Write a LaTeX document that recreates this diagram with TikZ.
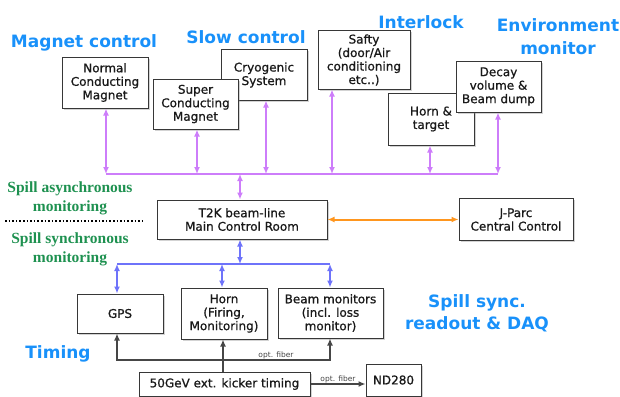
\documentclass[tikz,border=0pt]{standalone}
\usepackage{fontspec}
\setmainfont{DejaVu Sans}
\newfontfamily\boxfont{DejaVu Sans}[FakeBold=0.8]
\newfontfamily\greenfont{Liberation Serif}
\usetikzlibrary{arrows.meta,shadows}
\definecolor{headblue}{RGB}{25,145,250}
\definecolor{lblgreen}{RGB}{30,145,80}
\definecolor{purpc}{RGB}{205,125,250}
\definecolor{bluec}{RGB}{110,115,250}
\definecolor{orangec}{RGB}{255,150,30}
\definecolor{grayc}{RGB}{70,70,70}
\definecolor{boxgray}{RGB}{55,55,55}
\tikzset{
  box/.style={draw=boxgray, line width=1pt, fill=white, align=center, inner sep=0pt,
    font=\boxfont\fontsize{12}{13.5}\selectfont, text=black!90,
    drop shadow={shadow xshift=1.5pt, shadow yshift=-1.5pt, opacity=0.35, fill=gray}},
  heading/.style={text=headblue, font=\bfseries\fontsize{17}{23}\selectfont, align=center},
  greenlbl/.style={text=lblgreen, font=\greenfont\bfseries\fontsize{15.5}{19}\selectfont, align=center},
  purpline/.style={draw=purpc, line width=2pt},
  purparr/.style={purpline, {Latex[length=7pt,width=6pt]}-{Latex[length=7pt,width=6pt]}},
  blueline/.style={draw=bluec, line width=2pt},
  bluearr/.style={blueline, {Latex[length=7pt,width=6pt]}-{Latex[length=7pt,width=6pt]}},
  orangearr/.style={draw=orangec, line width=2pt, {Latex[length=7pt,width=6pt]}-{Latex[length=7pt,width=6pt]}},
  grayarr/.style={draw=grayc, line width=2pt},
  fiberlbl/.style={font=\fontsize{7.5}{9}\selectfont, text=grayc, inner sep=1pt}
}
\begin{document}
\begin{tikzpicture}[x=1pt,y=-1pt]
\useasboundingbox (0,0) rectangle (620,396);

% headings
\node[heading] (hmag) at (84,43) {Magnet control};
\node[heading] (hslow) at (246,37) {Slow control};
\node[heading] (hint) at (421,22) {Interlock};
\node[heading] (henv) at (558,37) {Environment\\monitor};
\node[heading] (htim) at (58,354) {Timing};
\node[heading, font=\bfseries\fontsize{17}{22}\selectfont] (hdaq) at (477,313) {Spill sync.\\readout \& DAQ};

% green labels
\node[greenlbl] (gasy) at (70,198) {Spill asynchronous\\monitoring};
\node[greenlbl] (gsyn) at (70,249) {Spill synchronous\\monitoring};
\coordinate (dotL) at (5,221);
\coordinate (dotR) at (144,221);
\draw[line width=1.6pt, dotted] (dotL) -- (dotR);

% top boxes
\node[box, minimum width=86pt, minimum height=51pt] (ncm) at (105,82.5) {Normal\\Conducting\\Magnet};
\node[box, minimum width=86pt, minimum height=50pt] (cryo) at (264,75) {Cryogenic\\System};
\node[box, minimum width=85pt, minimum height=50pt] (scm) at (195.5,104) {Super\\Conducting\\Magnet};
\node[box, minimum width=92pt, minimum height=58pt] (safty) at (364,60) {Safty\\(door/Air\\conditioning\\etc..)};
\node[box, minimum width=86pt, minimum height=52pt] (horntgt) at (431,119) {Horn \&\\target};
\node[box, minimum width=85pt, minimum height=51pt] (decay) at (498.5,86.5) {Decay\\volume \&\\Beam dump};

% control rooms
\node[box, minimum width=170pt, minimum height=39pt] (t2k) at (242,219.5) {T2K beam-line\\Main Control Room};
\node[box, minimum width=114pt, minimum height=42pt] (jparc) at (516,219.5) {J-Parc\\Central Control};

% bottom boxes
\node[box, minimum width=86pt, minimum height=39pt] (gps) at (120,313.5) {GPS};
\node[box, minimum width=86pt, minimum height=51pt] (horn) at (224,313.5) {Horn\\(Firing,\\Monitoring)};
\node[box, minimum width=105pt, minimum height=50pt] (bm) at (330.5,313) {Beam monitors\\(incl. loss\\monitor)};
\node[box, minimum width=171pt, minimum height=24pt] (kick) at (224.5,384) {50GeV ext. kicker timing};
\node[box, minimum width=55pt, minimum height=32pt] (nd) at (393.5,380) {ND280};

% purple bus
\coordinate (pbL) at (106,174);
\coordinate (pbR) at (498,174);
\draw[purpline] (pbL) -- (pbR);
\coordinate (xncm) at (106,0);
\coordinate (xscm) at (197,0);
\coordinate (xcryo) at (266,0);
\coordinate (xsaf) at (332,0);
\coordinate (xht) at (430,0);
\coordinate (xdec) at (498,0);
\coordinate (xt2k) at (240,0);
\draw[purparr] (xncm |- ncm.south) -- (xncm |- pbL);
\draw[purparr] (xscm |- scm.south) -- (xscm |- pbL);
\draw[purparr] (xcryo |- cryo.south) -- (xcryo |- pbL);
\draw[purparr] (xsaf |- safty.south) -- (xsaf |- pbL);
\draw[purparr] (xht |- horntgt.south) -- (xht |- pbL);
\draw[purparr] (xdec |- decay.south) -- (xdec |- pbL);
\draw[purparr] (xt2k |- pbL) -- (xt2k |- t2k.north);

% orange link
\draw[orangearr] (t2k.east) -- (jparc.west);

% blue bus
\coordinate (bbL) at (117,264);
\coordinate (bbR) at (330,264);
\draw[blueline] (bbL) -- (bbR);
\coordinate (xgps) at (117,0);
\coordinate (xhorn) at (222,0);
\coordinate (xbm) at (330,0);
\draw[bluearr] (xt2k |- t2k.south) -- (xt2k |- bbL);
\draw[bluearr] (xgps |- bbL) -- (xgps |- gps.north);
\draw[bluearr] (xhorn |- bbL) -- (xhorn |- horn.north);
\draw[bluearr] (xbm |- bbL) -- (xbm |- bm.north);

% timing fibres
\coordinate (fib) at (0,360);
\coordinate (xkick) at (223,0);
\draw[grayarr, {Latex[length=7pt,width=6pt]}-{Latex[length=7pt,width=6pt]}] (xgps |- gps.south) -- (xgps |- fib) -- (xbm |- fib) -- (xbm |- bm.south);
\draw[grayarr, -{Latex[length=7pt,width=6pt]}] (xkick |- kick.north) -- (xkick |- horn.south);
\node[fiberlbl, anchor=south] (f1) at (276,360) {opt. fiber};
\draw[grayarr, -{Latex[length=7pt,width=6pt]}] (kick.east) -- (kick.east -| nd.west);
\node[fiberlbl, anchor=south] (f2) at (338,384) {opt. fiber};
\end{tikzpicture}
\end{document}
